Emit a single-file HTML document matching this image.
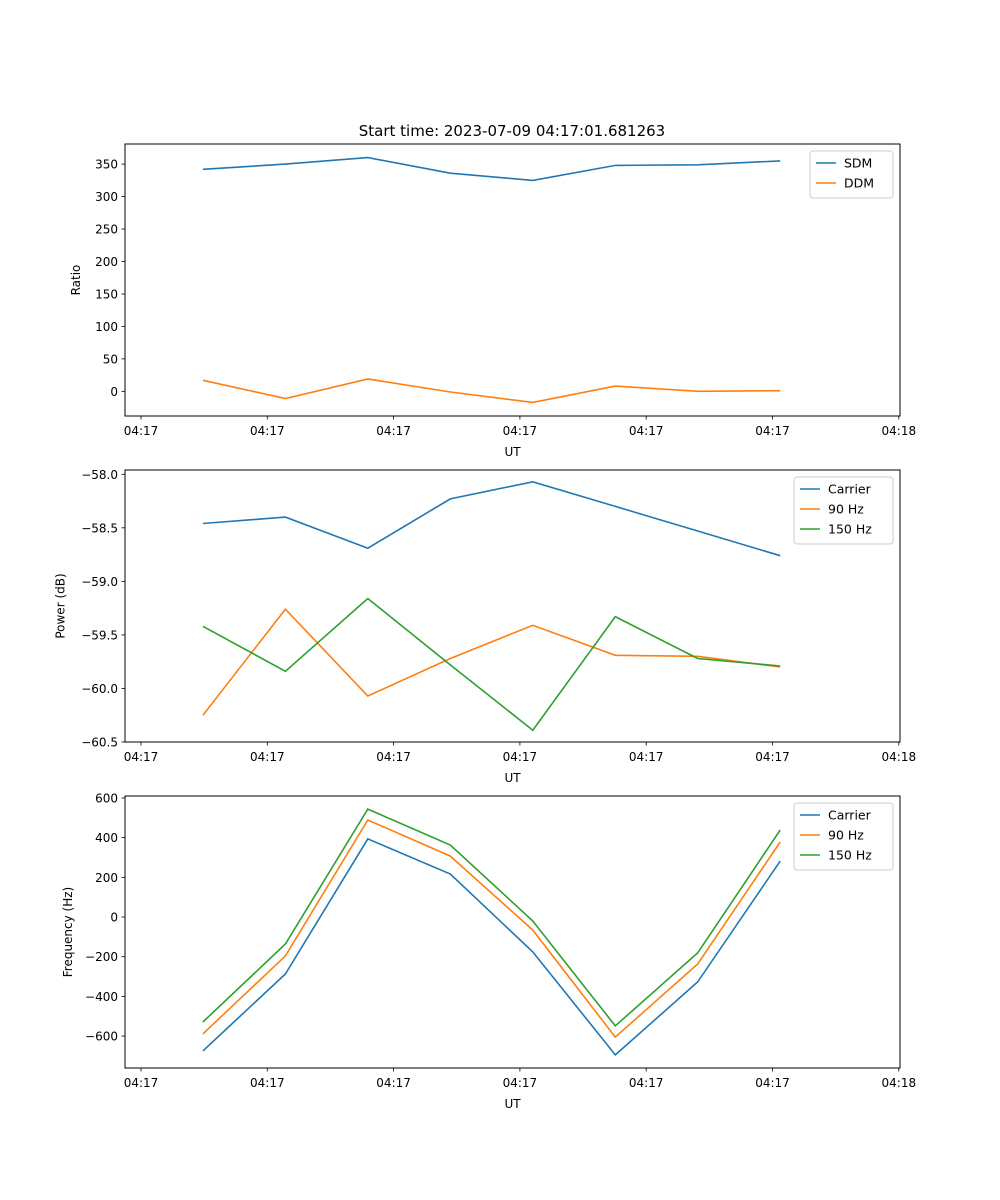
<!DOCTYPE html>
<html><head><meta charset="utf-8"><style>
body{margin:0;background:#fff}
svg{display:block;font-family:"DejaVu Sans","Liberation Sans",sans-serif}
</style></head><body>
<svg id="fig" width="1000" height="1200" xmlns="http://www.w3.org/2000/svg">
<rect width="1000" height="1200" fill="#fff"/>
<text x="512" y="136" font-size="15" text-anchor="middle">Start time: 2023-07-09 04:17:01.681263</text>
</svg>
<script>
const times = [4.9, 11.43, 17.96, 24.49, 31.02, 37.55, 44.08, 50.61];
const xTickVals = [0, 10, 20, 30, 40, 50, 60];
const xTickLabels = ["04:17","04:17","04:17","04:17","04:17","04:17","04:18"];
const sdm = [342, 350, 360, 336, 325, 348, 349, 355];
const ddm = [17, -11, 19, -1, -17, 8, 0, 1];
const pCarrier = [-58.46, -58.40, -58.69, -58.23, -58.07, -58.30, -58.53, -58.76];
const p90 = [-60.25, -59.26, -60.07, -59.72, -59.41, -59.69, -59.70, -59.80];
const p150 = [-59.42, -59.84, -59.16, -59.78, -60.39, -59.33, -59.72, -59.79];
const fCarrier = [-675, -287, 394, 217, -176, -695, -327, 282];
const f90 = [-589, -196, 489, 307, -66, -605, -237, 378];
const f150 = [-529, -136, 544, 363, -20, -549, -181, 438];
const ratioTicks = [0, 50, 100, 150, 200, 250, 300, 350];
const powerTicks = [-60.5, -60.0, -59.5, -59.0, -58.5, -58.0];
const freqTicks = [-600, -400, -200, 0, 200, 400, 600];

const NS = "http://www.w3.org/2000/svg";
const svg = document.getElementById("fig");
const C = {blue:"#1f77b4", orange:"#ff7f0e", green:"#2ca02c"};
function el(tag, attrs, parent){const e=document.createElementNS(NS,tag);for(const k in attrs)e.setAttribute(k,attrs[k]);(parent||svg).appendChild(e);return e;}
const L=125, R=900;
const xScale = t => 141 + t*12.63;

function panel(name, top, bottom, ymin, ymax, yticks, fmt, ylabel, series, legendW){
  const g = el("g",{});
  
  
  const y = v => bottom - (v - ymin)/(ymax - ymin)*(bottom - top);
  series.forEach(s=>{
    const pts = s.data.map((v,i)=>xScale(times[i]).toFixed(1)+","+y(v).toFixed(1)).join(" ");
    const pl = el("polyline",{points:pts,fill:"none",stroke:s.color,"stroke-width":1.6},g);
    
    
  });
  const frame = el("rect",{x:L,y:top,width:R-L,height:bottom-top,fill:"none",stroke:"#000","stroke-width":1},g);
  
  
  xTickVals.forEach((t,i)=>{
    const x = xScale(t);
    el("line",{x1:x,x2:x,y1:bottom,y2:bottom+3.5,stroke:"#000","stroke-width":0.8},g);
    const tx = el("text",{x:x,y:bottom+19,"font-size":12,"text-anchor":"middle"},g);
    tx.textContent = xTickLabels[i];
    
    
  });
  const xl = el("text",{x:(L+R)/2,y:bottom+40,"font-size":12,"text-anchor":"middle"},g);
  xl.textContent = "UT";
  
  
  yticks.forEach(v=>{
    const yy = y(v);
    el("line",{x1:L-3.5,x2:L,y1:yy,y2:yy,stroke:"#000","stroke-width":0.8},g);
    const tx = el("text",{x:L-7,y:yy+4.5,"font-size":12,"text-anchor":"end"},g);
    tx.textContent = fmt(v);
    
    
  });
  const yw = Math.max(...yticks.map(v=>fmt(v).length))*7.7;
  const yl = el("text",{x:0,y:0,"font-size":12,"text-anchor":"middle",transform:`translate(${L-yw-22},${(top+bottom)/2}) rotate(-90)`},g);
  yl.textContent = ylabel;
  
  
  const lx = R-7-legendW, ly = top+7, lh = 7+series.length*20;
  const lg = el("g",{},g);
  
  
  el("rect",{x:lx,y:ly,width:legendW,height:lh,rx:3,fill:"#fff","fill-opacity":0.8,stroke:"#ccc","stroke-width":1},lg);
  series.forEach((s,i)=>{
    const yy = ly+12+i*20;
    el("line",{x1:lx+6,x2:lx+26,y1:yy,y2:yy,stroke:s.color,"stroke-width":1.6},lg);
    const t = el("text",{x:lx+34,y:yy+4.5,"font-size":12.5},lg);
    t.textContent = s.label;
    
    
  });
}
const minus = s => s.replace("-","\u2212");
panel("ratio",144,416,-38,381,ratioTicks,v=>minus(String(v)),"Ratio",
  [{key:"sdm",label:"SDM",data:sdm,color:C.blue},{key:"ddm",label:"DDM",data:ddm,color:C.orange}],83);
panel("power",470,742,-60.5,-57.96,powerTicks,v=>minus(v.toFixed(1)),"Power (dB)",
  [{key:"carrier",label:"Carrier",data:pCarrier,color:C.blue},{key:"90hz",label:"90 Hz",data:p90,color:C.orange},{key:"150hz",label:"150 Hz",data:p150,color:C.green}],99);
panel("frequency",796,1068,-761,610,freqTicks,v=>minus(String(v)),"Frequency (Hz)",
  [{key:"carrier",label:"Carrier",data:fCarrier,color:C.blue},{key:"90hz",label:"90 Hz",data:f90,color:C.orange},{key:"150hz",label:"150 Hz",data:f150,color:C.green}],99);
</script>
</body></html>
